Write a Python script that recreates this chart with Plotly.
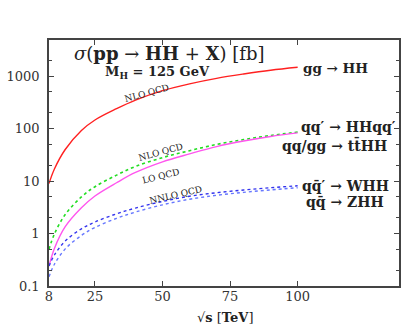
import plotly.graph_objects as go

sqrt_s = [8, 10, 14, 20, 25, 33, 40, 50, 60, 70, 80, 90, 100]
gg_hh = [9, 17, 40, 92, 146, 240, 350, 530, 715, 910, 1100, 1300, 1480]
vbf_hh = [0.5, 0.98, 2.3, 5.0, 7.8, 13, 19, 28, 38, 50, 62, 74, 86]
tthh = [0.24, 0.52, 1.35, 3.1, 5.2, 9.3, 14.6, 23.3, 33, 45.5, 58, 71, 83]
whh = [0.24, 0.39, 0.72, 1.23, 1.66, 2.38, 3.06, 4.09, 5.14, 6.0, 6.77, 7.48, 8.14]
zhh = [0.15, 0.26, 0.51, 0.92, 1.31, 1.95, 2.57, 3.53, 4.51, 5.36, 6.10, 6.80, 7.47]

x_ticks = [8, 25, 50, 75, 100]
y_ticks = [0.1, 1, 10, 100, 1000]
y_tick_labels = ["0.1", "1", "10", "100", "1000"]

SERIF = "DejaVu Serif"
AX = "#444444"

fig = go.Figure()
fig.add_trace(go.Scatter(x=sqrt_s, y=gg_hh, mode="lines", line=dict(color="#ff2020", width=1.4, shape="spline"), name="gg→HH"))
fig.add_trace(go.Scatter(x=sqrt_s, y=vbf_hh, mode="lines", line=dict(color="#22dd22", width=1.6, dash="dot", shape="spline"), name="VBF"))
fig.add_trace(go.Scatter(x=sqrt_s, y=tthh, mode="lines", line=dict(color="#ff55ee", width=1.4, shape="spline"), name="ttHH"))
fig.add_trace(go.Scatter(x=sqrt_s, y=whh, mode="lines", line=dict(color="#3333ee", width=1.4, dash="dot", shape="spline"), name="WHH"))
fig.add_trace(go.Scatter(x=sqrt_s, y=zhh, mode="lines", line=dict(color="#6677ff", width=1.4, dash="dot", shape="spline"), name="ZHH"))

L, R, T, B = 49, 2, 40, 38
W, H = 403, 324
pw, ph = W - L - R, H - T - B

def px(x):
    return (x - L) / pw

def py(y):
    return (H - B - y) / ph

ann = []
def add(text, x, y, size, angle=0, xanchor="center", color="#222222"):
    ann.append(dict(text=text, x=px(x), y=py(y), xref="paper", yref="paper",
                    showarrow=False, xanchor=xanchor, yanchor="middle",
                    textangle=angle, font=dict(family=SERIF, size=size, color=color)))

add("<i>σ</i>(<b>pp</b> → <b>HH</b> + <b>X</b>) [fb]", 72, 53, 18, xanchor="left")
add("<b>M<sub>H</sub> = 125 GeV</b>", 103, 72, 13, xanchor="left")
add("<b>gg → HH</b>", 302, 68, 13.5, xanchor="left")
add("<b>qq′ → HHqq′</b>", 300, 127, 14, xanchor="left")
add("<b>qq/gg → tt̄HH</b>", 391, 145, 14, xanchor="right")
add("<b>qq̄′ → WHH</b>", 301, 186, 14, xanchor="left")
add("<b>qq̄ → ZHH</b>", 305, 202, 14, xanchor="left")
add("NLO QCD", 148, 93, 9, angle=-15)
add("NLO QCD", 162, 152, 9, angle=-15)
add("LO QCD", 162, 176, 9, angle=-14)
add("NNLO QCD", 176, 195, 9, angle=-13)
add("√<b>s</b> [<b>TeV</b>]", 226, 317, 13)

fig.update_layout(
    width=W, height=H,
    margin=dict(l=L, r=R, t=T, b=B),
    paper_bgcolor="white", plot_bgcolor="white",
    showlegend=False,
    annotations=ann,
    xaxis=dict(range=[8, 137.5], tickvals=x_ticks, ticktext=[str(v) for v in x_ticks],
               ticks="inside", ticklen=5, tickcolor=AX, showline=True, linecolor=AX, linewidth=1.5,
               mirror="ticks", showgrid=False, zeroline=False, ticklabelstandoff=-2,
               tickfont=dict(family=SERIF, size=13, color="#333333")),
    yaxis=dict(type="log", range=[-1, 3.69], tickvals=y_ticks, ticktext=y_tick_labels,
               ticks="inside", ticklen=5, tickcolor=AX, showline=True, linecolor=AX, linewidth=1.5,
               mirror="ticks", showgrid=False, zeroline=False, ticklabelstandoff=5,
               tickfont=dict(family=SERIF, size=13, color="#333333"),
               minor=dict(tickvals=[0.2, 0.5, 2, 5, 20, 50, 200, 500, 2000], ticks="inside", ticklen=3, tickcolor=AX)),
)

fig.write_html("out.html", config={"displayModeBar": False},
               post_script="document.body.style.margin='0';document.body.style.overflow='hidden';")
